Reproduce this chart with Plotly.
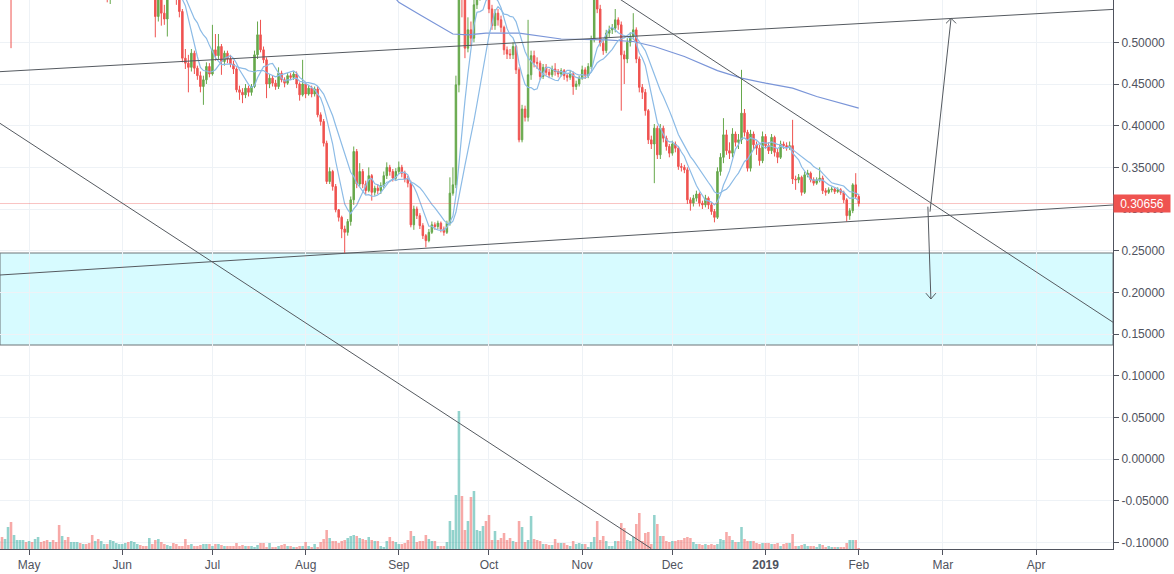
import pandas as pd
import plotly.graph_objects as go

# ---------------- data (daily, 2018-04-21 .. 2019-02-01) ----------------
start_date = "2018-04-21"
first_open = 0.84

close = [
    .86, .85, .88, .93, .80, .83, .87, .88, .90, .84,
    .85, .82, .84, .88, .86, .81, .76, .78, .75, .73,
    .70, .72, .70, .68, .69, .70, .71, .68, .69, .66,
    .64, .60, .62, .60, .61, .615, .553, .58, .60, .61,
    .615, .62, .63, .61, .62, .63, .635, .62, .60, .585,
    .60, .59, .531, .57, .535, .528, .58, .60, .58, .555,
    .537, .481, .475, .47, .487, .469, .46, .447, .455, .471,
    .462, .491, .484, .495, .477, .487, .48, .474, .468, .443,
    .44, .437, .445, .44, .447, .485, .509, .491, .479, .45,
    .457, .451, .447, .463, .455, .451, .46, .458, .462, .45,
    .437, .45, .438, .445, .438, .444, .413, .405, .379, .333,
    .345, .327, .299, .29, .276, .272, .285, .311, .369, .33,
    .345, .33, .322, .34, .32, .325, .322, .328, .34, .35,
    .345, .337, .345, .35, .343, .336, .331, .281, .30, .292,
    .28, .268, .262, .272, .281, .279, .283, .276, .272, .283,
    .319, .329, .449, .57, .565, .493, .515, .505, .545, .56,
    .575, .58, .57, .54, .52, .535, .527, .518, .491, .486,
    .485, .495, .467, .383, .42, .41, .461, .484, .476, .475,
    .459, .47, .464, .461, .468, .465, .462, .466, .46, .458,
    .462, .447, .45, .457, .467, .46, .471, .503, .555, .54,
    .499, .49, .511, .515, .517, .527, .521, .485, .48, .50,
    .507, .515, .48, .446, .44, .418, .383, .378, .397, .365,
    .397, .385, .375, .367, .378, .373, .351, .35, .347, .311,
    .307, .313, .318, .307, .305, .313, .305, .297, .29, .345,
    .362, .389, .37, .367, .39, .38, .383, .415, .392, .349,
    .39, .377, .373, .358, .387, .376, .37, .386, .368, .362,
    .378, .376, .374, .376, .336, .335, .338, .32, .341, .343,
    .335, .331, .335, .337, .322, .32, .323, .324, .321, .323,
    .32, .311, .292, .298, .329, .315, .30656,
]

high = [
    .88, .88, .90, .96, .95, .85, .89, .91, .93, .91,
    .87, .86, .86, .90, .89, .87, .82, .80, .79, .76,
    .74, .74, .73, .71, .70, .72, .73, .72, .70, .70,
    .67, .65, .63, .63, .62, .63, .62, .59, .61, .62,
    .63, .64, .65, .64, .63, .64, .65, .64, .63, .61,
    .61, .61, .60, .58, .575, .545, .59, .61, .61, .585,
    .56, .54, .492, .485, .492, .49, .472, .465, .46, .476,
    .475, .521, .51, .51, .498, .49, .49, .485, .478, .47,
    .448, .445, .45, .448, .45, .49, .525, .527, .495, .482,
    .462, .46, .455, .47, .466, .458, .463, .463, .465, .465,
    .452, .479, .452, .449, .448, .447, .447, .416, .408, .382,
    .35, .347, .33, .30, .292, .28, .288, .315, .375, .372,
    .355, .348, .334, .35, .342, .328, .33, .332, .345, .356,
    .353, .348, .349, .357, .353, .346, .34, .334, .304, .303,
    .295, .283, .27, .276, .285, .284, .286, .285, .279, .286,
    .338, .35, .46, .76, .62, .57, .53, .525, .552, .575,
    .59, .60, .59, .575, .545, .54, .54, .532, .52, .495,
    .492, .50, .497, .47, .425, .424, .527, .49, .49, .482,
    .478, .474, .474, .468, .472, .475, .468, .469, .468, .463,
    .466, .465, .454, .46, .472, .47, .475, .508, .57, .565,
    .545, .503, .515, .52, .522, .54, .53, .525, .49, .505,
    .512, .535, .518, .483, .45, .444, .42, .388, .402, .40,
    .402, .40, .388, .378, .382, .381, .375, .355, .353, .35,
    .314, .317, .322, .32, .31, .317, .315, .308, .30, .35,
    .367, .409, .395, .38, .397, .393, .39, .467, .42, .395,
    .395, .393, .381, .377, .393, .39, .38, .39, .388, .372,
    .382, .381, .38, .381, .407, .34, .342, .34, .345, .347,
    .345, .338, .338, .35, .34, .325, .326, .327, .326, .326,
    .325, .322, .313, .301, .331, .343, .318,
]

low = [
    .83, .83, .84, .87, .493, .76, .82, .85, .86, .82,
    .82, .80, .81, .83, .84, .79, .74, .75, .73, .71,
    .66, .69, .68, .66, .67, .68, .69, .66, .67, .65,
    .62, .58, .59, .59, .59, .60, .548, .546, .575, .59,
    .60, .60, .61, .60, .60, .61, .62, .61, .59, .57,
    .575, .575, .506, .525, .52, .521, .507, .57, .57, .545,
    .53, .476, .468, .44, .465, .462, .455, .44, .425, .45,
    .458, .46, .478, .48, .461, .472, .475, .47, .462, .44,
    .431, .427, .433, .435, .436, .445, .48, .488, .475, .433,
    .445, .447, .443, .444, .452, .446, .449, .455, .455, .445,
    .43, .435, .433, .436, .434, .435, .41, .40, .375, .33,
    .33, .322, .296, .285, .265, .247, .268, .28, .305, .325,
    .327, .325, .317, .32, .31, .316, .318, .318, .325, .336,
    .34, .333, .334, .342, .338, .332, .326, .278, .275, .288,
    .276, .264, .254, .26, .27, .275, .276, .272, .268, .27,
    .28, .316, .325, .44, .53, .481, .488, .495, .50, .54,
    .55, .565, .56, .535, .515, .515, .52, .512, .485, .48,
    .48, .48, .462, .38, .38, .405, .405, .455, .47, .468,
    .455, .456, .46, .457, .458, .46, .458, .459, .455, .453,
    .455, .437, .443, .447, .455, .456, .457, .468, .50, .535,
    .495, .485, .487, .506, .51, .512, .515, .418, .45, .475,
    .495, .503, .475, .44, .432, .412, .378, .372, .331, .36,
    .36, .38, .37, .362, .364, .368, .347, .345, .343, .306,
    .298, .303, .309, .303, .30, .302, .30, .293, .284, .288,
    .34, .355, .365, .36, .362, .375, .372, .378, .387, .345,
    .345, .372, .365, .352, .355, .372, .366, .366, .363, .355,
    .36, .372, .37, .371, .33, .323, .331, .316, .318, .338,
    .332, .328, .329, .332, .318, .316, .318, .32, .318, .319,
    .317, .307, .285, .287, .295, .312, .303,
]

volume = [
    8,
    12, 10, 22, 27, 14, 9, 9, 9, 7, 8,
    7, 10, 12, 7, 8, 9, 7, 9, 7, 24,
    13, 9, 12, 7, 7, 7, 6, 5, 5, 6,
    14, 8,
    10, 8, 5, 5, 9, 8, 6, 5, 5,
    6, 7, 8, 7, 5, 4, 3, 3, 11, 5,
    9, 10, 7, 5, 4, 3, 6, 5, 3, 3,
    10, 4, 5, 3, 3, 4, 5, 5, 5, 3,
    5, 5, 4, 3, 3, 3, 3, 6, 3, 4,
    3, 3,
    3, 2, 4, 6, 6, 2, 6, 2, 2,
    3, 4, 5, 3, 3, 2, 2, 3, 3, 7,
    3, 2, 5, 2, 7, 10, 19, 11, 8, 8,
    6, 8, 9, 11, 13, 14, 13, 11, 10, 9,
    12, 9,
    8, 8, 3, 2, 8, 12, 8, 7, 5,
    5, 6, 9, 18, 13, 7, 8, 8, 14, 10,
    8, 8, 3, 3, 3, 7, 28, 19, 54, 138,
    53, 19, 28, 52, 58, 19, 18, 23, 28, 34,
    9, 18, 9, 11, 16, 9, 11, 8, 7, 28,
    22, 7, 9, 33, 10, 9, 8, 5, 5, 4,
    4, 10, 6, 6, 6, 4, 3, 8, 5, 6,
    5, 5, 2, 7, 12, 28, 9, 13, 8, 3,
    3, 8, 8, 26, 21, 9, 8, 12, 25, 36,
    8, 16, 17, 5, 34, 25, 13, 13, 8, 7,
    8, 8, 9, 9, 11, 12, 11, 7, 5, 5,
    4, 5, 4, 5, 4, 5,
    10, 9, 17, 13, 9,
    7, 7, 22, 10, 8, 8, 8, 6, 5, 6,
    6, 6, 5, 5, 6, 3, 5, 6, 6, 15,
    3, 3, 4, 5, 3, 3, 3, 2, 5, 4,
    2, 3, 2, 2, 2, 2, 2, 6, 9, 9,
    9, 1,
]

# slow (long) moving average
long_ma_dates = ["2018-08-28", "2018-09-01", "2018-09-08", "2018-09-15", "2018-09-19",
                 "2018-09-24", "2018-09-30", "2018-10-11", "2018-10-25", "2018-11-09",
                 "2018-11-18", "2018-11-25", "2018-12-05", "2018-12-16", "2018-12-24",
                 "2019-01-01", "2019-01-10", "2019-01-18", "2019-01-24", "2019-02-01"]
long_ma_values = [0.565, 0.548, 0.533, 0.518, 0.510,
                  0.509, 0.511, 0.511, 0.504, 0.503,
                  0.501, 0.495, 0.483, 0.466, 0.457,
                  0.451, 0.445, 0.435, 0.429, 0.421]

last_price = 0.30656
month_ticks = ["2018-05-01", "2018-06-01", "2018-07-01", "2018-08-01", "2018-09-01",
               "2018-10-01", "2018-11-01", "2018-12-01", "2019-01-01", "2019-02-01",
               "2019-03-01", "2019-04-01"]
month_labels = ["May", "Jun", "Jul", "Aug", "Sep", "Oct", "Nov", "Dec", "<b>2019</b>",
                "Feb", "Mar", "Apr"]
price_ticks = [-0.10, -0.05, 0.00, 0.05, 0.10, 0.15, 0.20, 0.25, 0.30, 0.35, 0.40, 0.45, 0.50]

# drawings (trend lines, zone, arrows) in data coordinates
zone_low, zone_high = 0.1368, 0.2472
trend_lines = [
    ("2018-04-21 08:00", 0.4648, "2019-04-26 14:00", 0.5395),
    ("2018-04-21 08:00", 0.2208, "2019-04-26 14:00", 0.3048),
    ("2018-04-21 08:00", 0.4028, "2018-11-23 22:00", -0.1073),
    ("2018-11-07 23:00", 0.5650, "2019-04-26 14:00", 0.1641),
    ("2019-02-24 17:00", 0.2968, "2019-03-03 17:00", 0.5288),
    ("2019-03-02 01:00", 0.5228, "2019-03-03 17:00", 0.5288),
    ("2019-03-05 09:00", 0.5228, "2019-03-03 17:00", 0.5288),
    ("2019-02-24 00:00", 0.3028, "2019-02-25 00:00", 0.1920),
    ("2019-02-23 08:00", 0.1990, "2019-02-25 00:00", 0.1920),
    ("2019-02-26 16:00", 0.1990, "2019-02-25 00:00", 0.1920),
]

# ---------------- build ----------------
n = min(len(close), len(high), len(low), len(volume))
close, high, low, volume = close[:n], high[:n], low[:n], volume[:n]
dates = pd.date_range(start_date, periods=n, freq="D")
opens = [first_open] + close[:-1]

UP = "#66a84b"
DOWN = "#ef5350"
vol_colors = ["rgba(38,166,154,0.5)" if c >= o else "rgba(239,83,80,0.5)"
              for o, c in zip(opens, close)]

cs = pd.Series(close)
ma_fast = cs.rolling(7).mean()
ma_slow = cs.rolling(14).mean()

fig = go.Figure()

fig.add_trace(go.Bar(x=dates, y=volume, marker=dict(color=vol_colors, line=dict(width=0)),
                     yaxis="y2", showlegend=False, hoverinfo="skip"))

fig.add_trace(go.Scatter(x=long_ma_dates, y=long_ma_values, mode="lines",
                         line=dict(color="#7a95d8", width=1.2), showlegend=False))
fig.add_trace(go.Scatter(x=dates, y=ma_slow, mode="lines",
                         line=dict(color="#8cbbe6", width=1.2), showlegend=False))
fig.add_trace(go.Scatter(x=dates, y=ma_fast, mode="lines",
                         line=dict(color="#8cbbe6", width=1.2), showlegend=False))

fig.add_trace(go.Candlestick(
    x=dates, open=opens, high=high, low=low, close=close,
    increasing=dict(line=dict(color=UP, width=1), fillcolor=UP),
    decreasing=dict(line=dict(color=DOWN, width=1), fillcolor=DOWN),
    whiskerwidth=0, showlegend=False))

shapes = [
    dict(type="rect", xref="paper", x0=0, x1=1, yref="y", y0=zone_low, y1=zone_high,
         fillcolor="#d7fbff", line=dict(color="#6d7479", width=1), layer="below"),
    dict(type="line", xref="paper", x0=0, x1=1, yref="y", y0=last_price, y1=last_price,
         line=dict(color="rgba(239,83,80,0.35)", width=1)),
]
for x0, y0, x1, y1 in trend_lines:
    shapes.append(dict(type="line", xref="x", yref="y", x0=x0, y0=y0, x1=x1, y1=y1,
                       line=dict(color="#555a60", width=1)))

fig.update_layout(
    width=1174, height=574,
    margin=dict(l=0, r=61, t=0, b=25),
    paper_bgcolor="white", plot_bgcolor="white",
    font=dict(family="Liberation Sans, Arial, sans-serif", size=12, color="#50535e"),
    showlegend=False,
    bargap=0.15,
    shapes=shapes,
    xaxis=dict(
        type="date", range=["2018-04-21 08:00", "2019-04-26 14:00"],
        rangeslider=dict(visible=False),
        tickvals=month_ticks, ticktext=month_labels,
        showgrid=True, gridcolor="#eef2f6", gridwidth=1,
        ticks="outside", ticklen=5, tickcolor="#50535e",
        showline=True, linecolor="#50535e", linewidth=1,
        zeroline=False, tickfont=dict(size=12, color="#50535e"),
    ),
    yaxis=dict(
        side="right", range=[-0.108, 0.5508],
        tickvals=price_ticks, ticktext=[f"{v:.5f}" for v in price_ticks],
        showgrid=True, gridcolor="#eef2f6", gridwidth=1,
        ticks="outside", ticklen=5, tickcolor="#50535e",
        showline=True, linecolor="#50535e", linewidth=1,
        zeroline=False, tickfont=dict(size=12, color="#50535e"),
    ),
    yaxis2=dict(overlaying="y", range=[0, 549], visible=False, fixedrange=True),
    annotations=[
        dict(xref="paper", x=1, xanchor="left", yref="y", y=last_price, yanchor="middle",
             text=f"{last_price:.5f}", showarrow=False, bgcolor="#ef5350",
             font=dict(color="white", size=12), width=56, height=17, align="center",
             borderpad=0),
    ],
)

fig.write_html(
    "out.html",
    config={"displayModeBar": False},
    post_script="document.body.style.margin='0';document.body.style.overflow='hidden';",
)
